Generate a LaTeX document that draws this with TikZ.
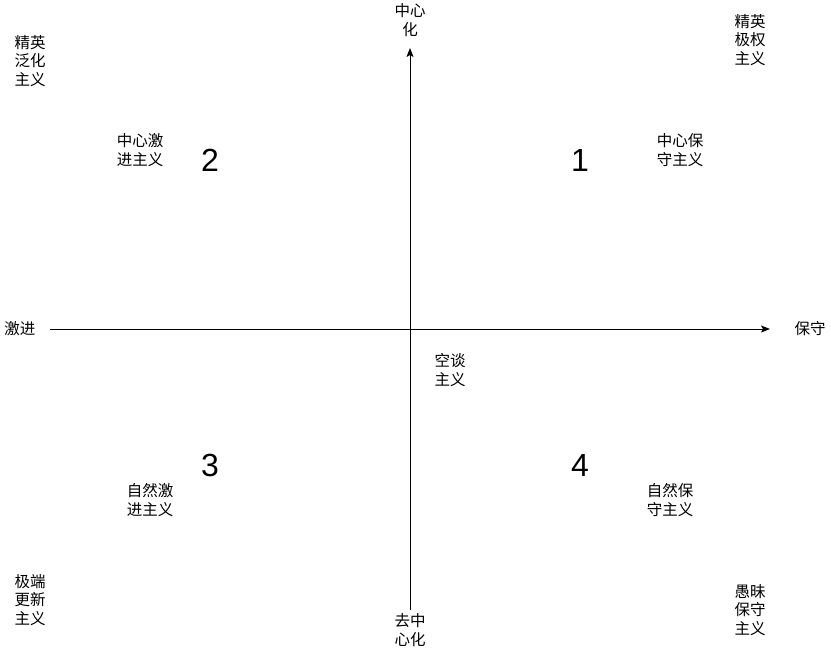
\documentclass[tikz,border=0pt]{standalone}
\usepackage{fontspec}
\setmainfont{Liberation Sans}
\newfontfamily\cjk{Noto Sans CJK SC}
\usetikzlibrary{arrows.meta}
\begin{document}
\begin{tikzpicture}[x=1pt,y=-1pt,
  lbl/.style={inner sep=0pt,align=center,font=\cjk\fontsize{15.5}{18.5}\selectfont},
  num/.style={inner sep=0pt,font=\fontsize{32}{36}\selectfont},
  axis/.style={line width=1pt,-{Stealth[length=9pt,width=7pt,inset=2pt]}}]
\useasboundingbox (0,0) rectangle (831,648);
\coordinate (xl) at (50,329);
\coordinate (xr) at (770,329);
\coordinate (yb) at (410,610);
\coordinate (yt) at (410,48);
\draw[axis] (xl) -- (xr);
\draw[axis] (yb) -- (yt);
\node[lbl] (top) at (410,20) {中心\\化};
\node[lbl] (bot) at (410,630) {去中\\心化};
\node[lbl] (left) at (20,329) {激进};
\node[lbl] (right) at (810,329) {保守};
\node[lbl] (tl) at (30,61) {精英\\泛化\\主义};
\node[lbl] (tr) at (750,40) {精英\\极权\\主义};
\node[lbl] (bl) at (30,600) {极端\\更新\\主义};
\node[lbl] (br) at (750,610) {愚昧\\保守\\主义};
\node[lbl] (q2) at (140,150) {中心激\\进主义};
\node[lbl] (q1) at (680,150) {中心保\\守主义};
\node[lbl] (q3) at (150,500) {自然激\\进主义};
\node[lbl] (q4) at (670,500) {自然保\\守主义};
\node[lbl] (mid) at (450,370) {空谈\\主义};
\node[num] (n1) at (580,160) {1};
\node[num] (n2) at (210,160) {2};
\node[num] (n3) at (210,465) {3};
\node[num] (n4) at (580,465) {4};
\end{tikzpicture}
\end{document}
